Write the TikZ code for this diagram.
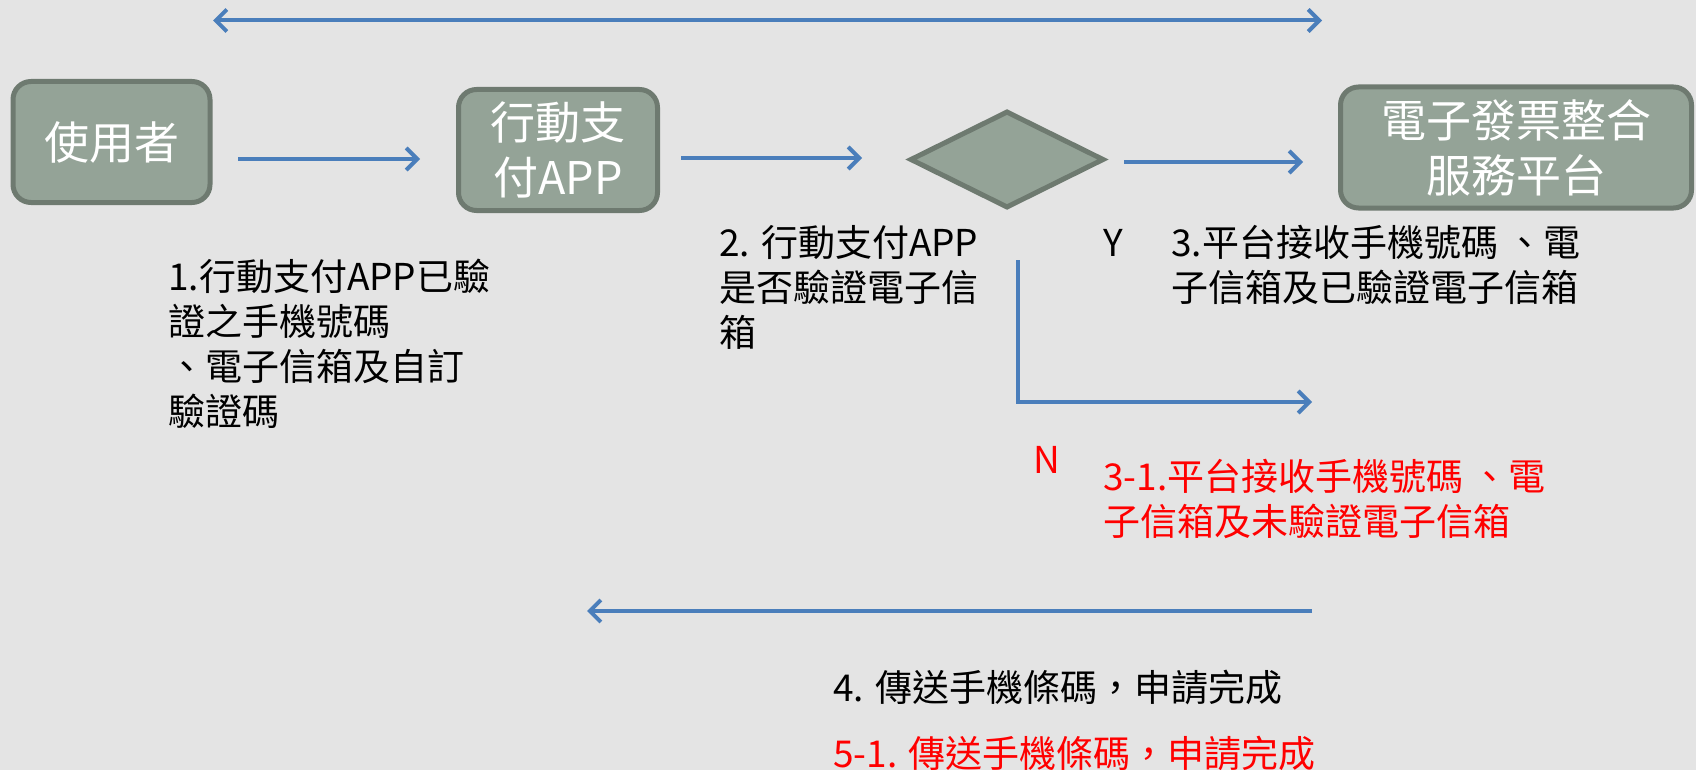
\documentclass[tikz,border=0pt]{standalone}
\usepackage{fontspec}
\setmainfont{Noto Sans CJK TC}
\usepackage{tikz}
\usetikzlibrary{arrows.meta,shapes.geometric}
\definecolor{bg_gray}{RGB}{228,228,228}
\definecolor{box_fill}{RGB}{148,163,151}
\definecolor{box_edge}{RGB}{110,122,112}
\definecolor{arrow_blue}{RGB}{74,126,187}
\definecolor{note_red}{RGB}{255,0,0}

\begin{document}
\begin{tikzpicture}[x=1pt,y=-1pt,>={Straight Barb[length=11pt,width=22pt]}]
    \tikzstyle{box}=[draw=box_edge, line width=5pt, rounded corners=18pt, fill=box_fill, text=white, font=\fontsize{45}{55}\selectfont, align=center, minimum height=121pt]
    \tikzstyle{flow}=[->, draw=arrow_blue, line width=4pt]
    \tikzstyle{note}=[anchor=north west, inner sep=0pt, align=left, font=\fontsize{37}{45}\selectfont]

    \fill[bg_gray] (0,0) rectangle (1696,770);
    \useasboundingbox (0,0) rectangle (1696,770);

    \node[box, minimum width=197pt] (user) at (111.5,142)  {使用者};
    \node[box, minimum width=199pt] (app)  at (558,150)    {行動支\\付APP};
    \node[diamond, draw=box_edge, line width=5pt, fill=box_fill, minimum width=194pt, minimum height=97pt, inner sep=0pt] (chk) at (1007,159.5) {};
    \node[box, minimum width=351pt] (plat) at (1516,147.5) {電子發票整合\\服務平台};

    \node[note] (t1) at (168,259) {1.行動支付APP已驗\\證之手機號碼\\、電子信箱及自訂\\驗證碼};
    \node[note] (t2) at (719,225) {2. 行動支付APP\\是否驗證電子信\\箱};
    \node[font=\fontsize{37}{45}\selectfont, inner sep=0pt] (yes) at (1113,243) {Y};
    \node[note] (t3) at (1171,225) {3.平台接收手機號碼 、電\\子信箱及已驗證電子信箱};
    \node[font=\fontsize{37}{45}\selectfont, inner sep=0pt, text=note_red] (no) at (1047,460) {N};
    \node[note, text=note_red] (t31) at (1103,459) {3-1.平台接收手機號碼 、電\\子信箱及未驗證電子信箱};
    \node[note] (t4) at (833,670) {4. 傳送手機條碼，申請完成};
    \node[note, text=note_red] (t51) at (833,736) {5-1. 傳送手機條碼，申請完成};

    % arrow ends
    \coordinate (topL) at (213,20.5);
    \coordinate (topR) at (1322,20.5);
    \coordinate (u1) at (238,159);
    \coordinate (u2) at (420,159);
    \coordinate (a1) at (681,158);
    \coordinate (a2) at (862,158);
    \coordinate (c1) at (1124,162);
    \coordinate (c2) at (1303,162);
    \coordinate (n1) at (1018,260);
    \coordinate (n2) at (1312,402);
    \coordinate (b1) at (1312,611);
    \coordinate (b2) at (587,611);

    \path
     (topL) edge[flow, <->] (topR)
     (u1) edge[flow] (u2)
     (a1) edge[flow] (a2)
     (c1) edge[flow] (c2)
     (b1) edge[flow] (b2)
     ;
    \draw[flow] (n1) |- (n2);
\end{tikzpicture}
\end{document}
